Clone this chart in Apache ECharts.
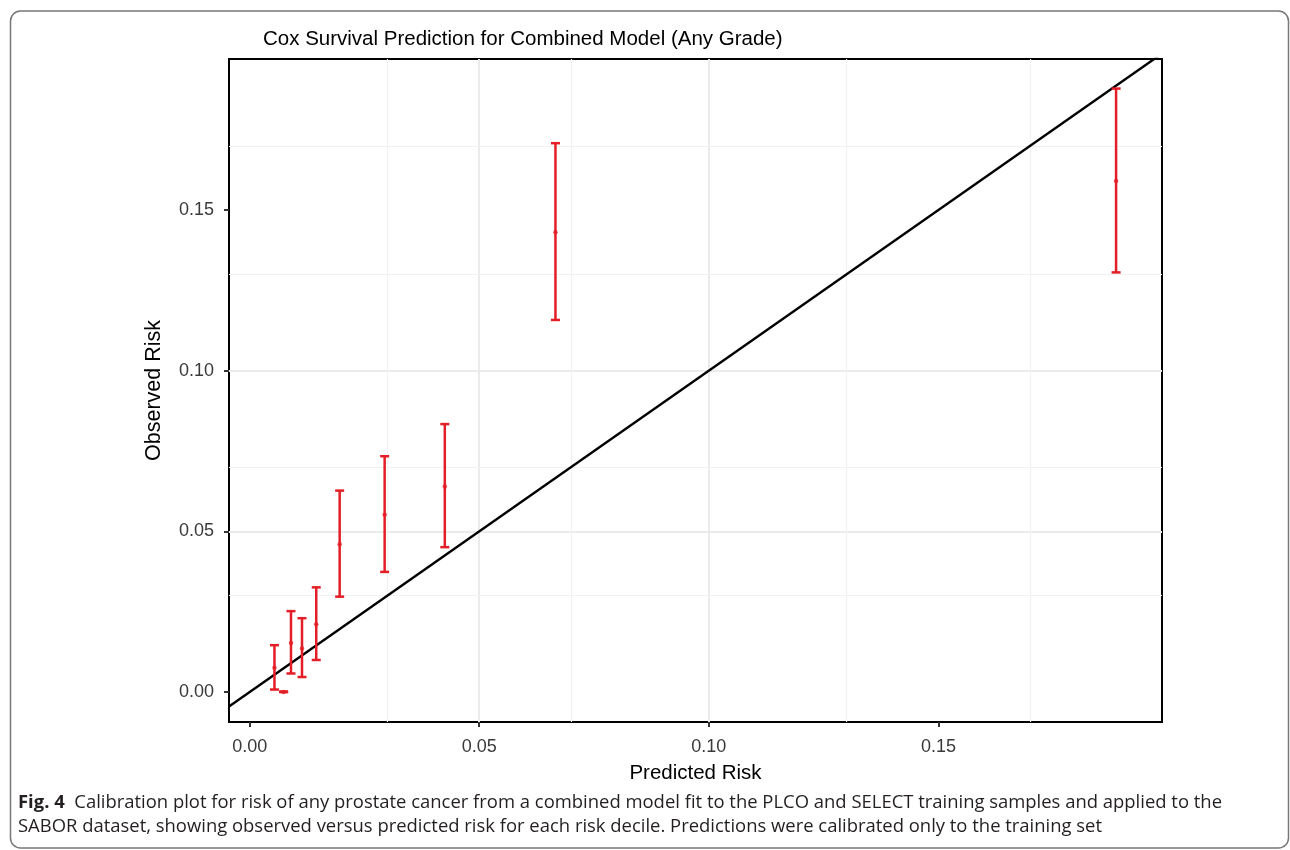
<!DOCTYPE html>
<html>
<head>
<meta charset="utf-8">
<script src="https://cdn.jsdelivr.net/npm/echarts@6/dist/echarts.min.js"></script>
<style>
  html, body { margin: 0; padding: 0; background: #fff; }
  #chart { width: 1290px; height: 850px; }
</style>
</head>
<body>
<div id="chart"></div>
<script>
// one entry per risk decile
const predicted = [0.0054, 0.0074, 0.0090, 0.0114, 0.0145, 0.0196, 0.0294, 0.0425, 0.0666, 0.1887];
const observed  = [0.0076, 0.0000, 0.0153, 0.0136, 0.0211, 0.0460, 0.0552, 0.0640, 0.1431, 0.1590];
const lower     = [0.0008, 0.0000, 0.0058, 0.0047, 0.0100, 0.0297, 0.0374, 0.0451, 0.1158, 0.1306];
const upper     = [0.0146, 0.0002, 0.0252, 0.0230, 0.0326, 0.0627, 0.0734, 0.0834, 0.1708, 0.1878];

// axes
const xRange = [-0.0045, 0.1987];
const yRange = [-0.0093, 0.1970];
const majorTicks = [0, 0.05, 0.10, 0.15];
const minorTicks = [0.025, 0.075, 0.125, 0.175];

const titleText = 'Cox Survival Prediction for Combined Model (Any Grade)';
const captionLead = 'Fig. 4';
const captionLine1 = 'Calibration plot for risk of any prostate cancer from a combined model fit to the PLCO and SELECT training samples and applied to the';
const captionLine2 = 'SABOR dataset, showing observed versus predicted risk for each risk decile. Predictions were calibrated only to the training set';

const RED = '#e41e26';
const FONT = '"Liberation Sans", Arial, sans-serif';
const CAP_FONT = '"Open Sans", "Noto Sans", sans-serif';
const CAP_SIZE = 17.5;

// squeeze the caption to the width of the original (condensed face)
function measure(str, font) {
    const ctx = document.createElement('canvas').getContext('2d');
    ctx.font = font;
    return ctx.measureText(str).width;
}
const capWidth = measure(captionLead + '  ', 'bold ' + CAP_SIZE + 'px ' + CAP_FONT)
    + measure(captionLine1, CAP_SIZE + 'px ' + CAP_FONT);
const capScale = 1204 / capWidth;

const chart = echarts.init(document.getElementById('chart'), null, {renderer: 'canvas'});

function valueAxis(range, name, nameGap, nameSize, margin) {
    return {
        type: 'value',
        min: range[0],
        max: range[1],
        splitNumber: 4,
        axisLine: {show: false, onZero: false},
        axisTick: {show: true, length: 5, customValues: majorTicks, lineStyle: {color: '#333', width: 2}},
        axisLabel: {
            customValues: majorTicks,
            margin: margin,
            fontFamily: FONT, fontSize: 18, color: '#3a3a3a',
            formatter: v => v.toFixed(2)
        },
        splitLine: {show: true, showMinLine: false, showMaxLine: false, lineStyle: {color: '#ebebeb', width: 2}},
        name: name,
        nameLocation: 'middle',
        nameGap: nameGap,
        nameTextStyle: {fontFamily: FONT, fontSize: nameSize, color: '#000'}
    };
}

const option = {
    animation: false,
    backgroundColor: '#fff',
    title: {
        text: titleText,
        left: 263,
        top: 29,
        padding: 0,
        textStyle: {fontFamily: FONT, fontSize: 20.5, fontWeight: 'normal', color: '#000'}
    },
    grid: {
        left: 229, top: 59, width: 933, height: 663,
        show: true,
        borderColor: '#000',
        borderWidth: 2,
        backgroundColor: 'transparent',
        containLabel: false,
        outerBoundsMode: 'none'
    },
    xAxis: valueAxis(xRange, 'Predicted Risk', 41, 20.5, 16),
    yAxis: valueAxis(yRange, 'Observed Risk', 64, 21.5, 15),
    series: [
        {
            // minor grid lines
            name: 'minor',
            type: 'line',
            data: [],
            z: 1,
            silent: true,
            markLine: {
                z: 1,
                silent: true,
                symbol: ['none', 'none'],
                label: {show: false},
                lineStyle: {color: '#f2f2f2', width: 1.2, type: 'solid'},
                emphasis: {disabled: true},
                data: minorTicks.map(v => ({xAxis: v})).concat(minorTicks.map(v => ({yAxis: v})))
            }
        },
        {
            // identity line y = x
            name: 'identity',
            type: 'line',
            data: [[xRange[0], xRange[0]], [xRange[1], xRange[1]]],
            showSymbol: false,
            clip: true,
            silent: true,
            z: 3,
            lineStyle: {color: '#000', width: 2.4}
        },
        {
            name: 'interval',
            type: 'custom',
            z: 4,
            silent: true,
            data: predicted.map((x, i) => [x, lower[i], upper[i]]),
            encode: {x: 0, y: [1, 2]},
            renderItem: function (params, api) {
                const x = api.value(0);
                const lo = api.coord([x, api.value(1)]);
                const hi = api.coord([x, api.value(2)]);
                const half = 4.5;
                const style = {stroke: RED, lineWidth: 2.5};
                return {
                    type: 'group',
                    children: [
                        {type: 'line', shape: {x1: lo[0], y1: lo[1], x2: hi[0], y2: hi[1]}, style: style},
                        {type: 'line', shape: {x1: lo[0] - half, y1: lo[1], x2: lo[0] + half, y2: lo[1]}, style: style},
                        {type: 'line', shape: {x1: hi[0] - half, y1: hi[1], x2: hi[0] + half, y2: hi[1]}, style: style}
                    ]
                };
            }
        },
        {
            name: 'observed',
            type: 'scatter',
            z: 5,
            silent: true,
            symbol: 'circle',
            symbolSize: 4.5,
            itemStyle: {color: RED},
            data: predicted.map((x, i) => [x, observed[i]])
        }
    ],
    graphic: [
        {
            type: 'rect',
            silent: true,
            shape: {x: 10.5, y: 11, width: 1278, height: 837, r: 10},
            style: {fill: 'none', stroke: '#777', lineWidth: 1.5}
        },
        {
            type: 'text',
            silent: true,
            x: 18, y: 803,
            scaleX: capScale,
            style: {
                text: '{b|' + captionLead + '}  ' + captionLine1,
                fontFamily: CAP_FONT, fontSize: CAP_SIZE, fill: '#231f20',
                verticalAlign: 'middle',
                rich: {b: {fontFamily: CAP_FONT, fontSize: CAP_SIZE, fontWeight: 'bold', fill: '#231f20'}}
            }
        },
        {
            type: 'text',
            silent: true,
            x: 18, y: 827,
            scaleX: capScale,
            style: {
                text: captionLine2,
                fontFamily: CAP_FONT, fontSize: CAP_SIZE, fill: '#231f20',
                verticalAlign: 'middle'
            }
        }
    ]
};

chart.setOption(option);
</script>
</body>
</html>
